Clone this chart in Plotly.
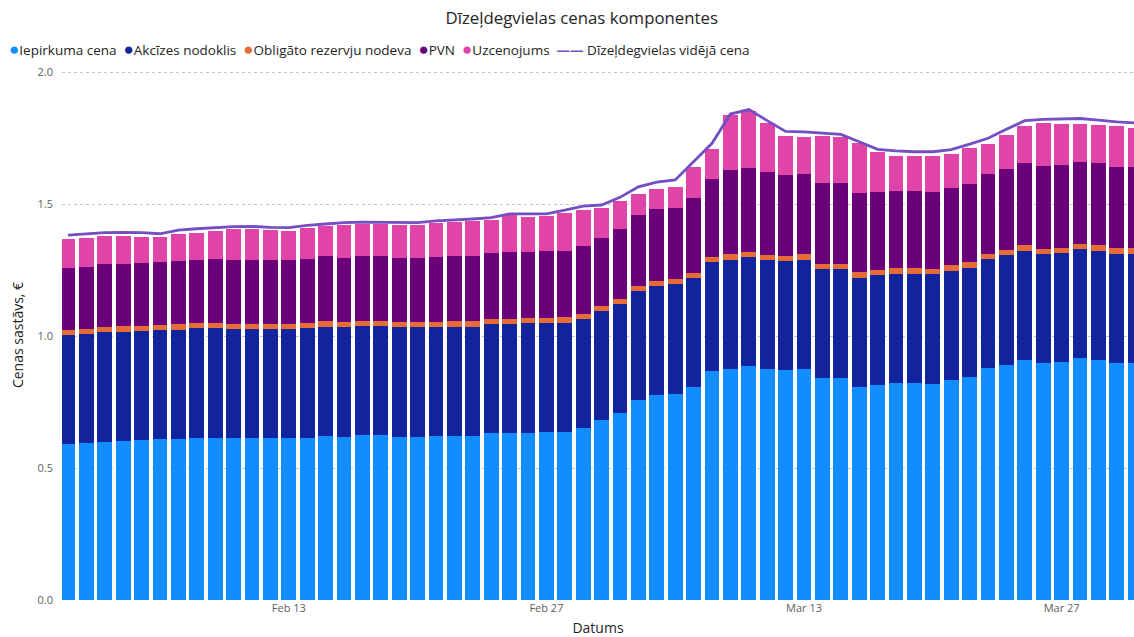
import pandas as pd
import plotly.graph_objects as go

dates = pd.date_range("2022-02-01", "2022-03-31", freq="D")

iepirkuma = [0.591, 0.595, 0.601, 0.604, 0.606, 0.609, 0.611, 0.616, 0.616, 0.613,
             0.614, 0.614, 0.614, 0.616, 0.623, 0.620, 0.625, 0.624, 0.620, 0.620,
             0.621, 0.623, 0.623, 0.632, 0.633, 0.635, 0.637, 0.638, 0.651,
             0.682, 0.709, 0.758, 0.777, 0.783, 0.806, 0.868, 0.877, 0.886, 0.875,
             0.872, 0.877, 0.842, 0.842, 0.809, 0.817, 0.824, 0.824, 0.821, 0.835,
             0.846, 0.880, 0.893, 0.911, 0.899, 0.902, 0.916, 0.911, 0.900, 0.900]
akcizes = [0.414] * 59
rezervju = [0.020] * 59
pvn = [0.235, 0.235, 0.238, 0.238, 0.238, 0.237, 0.239, 0.241, 0.242, 0.242,
       0.243, 0.243, 0.242, 0.243, 0.246, 0.244, 0.246, 0.246, 0.244, 0.244,
       0.246, 0.246, 0.247, 0.249, 0.251, 0.251, 0.252, 0.253, 0.256,
       0.258, 0.263, 0.267, 0.270, 0.271, 0.285, 0.296, 0.319, 0.320, 0.314,
       0.304, 0.304, 0.304, 0.304, 0.300, 0.296, 0.292, 0.292, 0.292, 0.292,
       0.297, 0.300, 0.306, 0.311, 0.313, 0.314, 0.313, 0.314, 0.310, 0.310]
uzcenojums = [0.110, 0.110, 0.106, 0.105, 0.099, 0.095, 0.105, 0.101, 0.109, 0.117,
              0.115, 0.111, 0.111, 0.118, 0.114, 0.124, 0.120, 0.123, 0.124, 0.125,
              0.130, 0.130, 0.132, 0.125, 0.142, 0.134, 0.132, 0.142, 0.139,
              0.113, 0.109, 0.082, 0.076, 0.077, 0.116, 0.111, 0.208, 0.216, 0.187,
              0.148, 0.140, 0.180, 0.175, 0.191, 0.151, 0.135, 0.132, 0.138, 0.129,
              0.138, 0.114, 0.130, 0.143, 0.163, 0.157, 0.143, 0.144, 0.152, 0.147]
videja_cena = [1.384, 1.389, 1.393, 1.394, 1.393, 1.389, 1.403, 1.408, 1.413, 1.416,
               1.417, 1.413, 1.412, 1.421, 1.426, 1.431, 1.433, 1.433, 1.431, 1.431,
               1.438, 1.441, 1.445, 1.450, 1.464, 1.464, 1.464, 1.479, 1.494,
               1.498, 1.527, 1.567, 1.585, 1.593, 1.662, 1.732, 1.843, 1.860, 1.818,
               1.777, 1.775, 1.770, 1.766, 1.738, 1.709, 1.703, 1.700, 1.700, 1.708,
               1.729, 1.751, 1.785, 1.818, 1.823, 1.824, 1.826, 1.820, 1.813, 1.809]

bar_names = ["Iepirkuma cena", "Akcīzes nodoklis", "Obligāto rezervju nodeva", "PVN", "Uzcenojums"]
bar_values = [iepirkuma, akcizes, rezervju, pvn, uzcenojums]
bar_colors = ["#118DFF", "#12239E", "#E66C37", "#6B007B", "#E044A7"]
line_name = "Dīzeļdegvielas vidējā cena"
line_color = "#744EC2"

FONT = "Segoe UI, Open Sans, sans-serif"

fig = go.Figure()
for name, vals, col in zip(bar_names, bar_values, bar_colors):
    fig.add_trace(go.Bar(x=dates, y=vals, name=name, marker=dict(color=col, line=dict(width=0))))
fig.add_trace(go.Scatter(x=dates, y=videja_cena, name=line_name, mode="lines",
                         line=dict(color=line_color, width=2.8)))

# compact Power BI-like legend
parts = []
for name, col in zip(bar_names, bar_colors):
    parts.append(f"<span style='color:{col};font-size:17px'>●</span>{name}")
parts.append(f"<span style='color:{line_color}'><b>——</b></span> {line_name}")
legend_text = "  ".join(parts)

fig.update_layout(
    width=1134, height=637,
    margin=dict(l=62, r=0, t=70, b=37),
    barmode="stack", bargap=0.2,
    plot_bgcolor="white", paper_bgcolor="white",
    showlegend=False,
    font=dict(family=FONT, color="#252423"),
    title=dict(text="Dīzeļdegvielas cenas komponentes", x=0.513, xanchor="center",
               y=1 - 18 / 637, yanchor="middle", font=dict(size=16.8, color="#252423")),
    annotations=[dict(text=legend_text, xref="paper", yref="paper",
                      x=(7 - 62) / 1072, y=(600 - 48) / 530, xanchor="left", yanchor="middle",
                      showarrow=False, font=dict(size=13.5, color="#252423"))],
)
fig.update_xaxes(
    range=["2022-01-31 16:10", "2022-03-30 22:24"],
    tick0="2022-02-13", dtick=14 * 86400000, tickformat="%b %-d",
    tickfont=dict(size=11, color="#605E5C"), showgrid=False, showline=False, zeroline=False,
    title=dict(text="Datums", font=dict(size=14, color="#252423"), standoff=11),
)
fig.update_yaxes(
    range=[0, 2.01], tickvals=[0, 0.5, 1.0, 1.5, 2.0], tickformat=".1f",
    tickfont=dict(size=11, color="#605E5C"),
    showgrid=True, gridcolor="#C8C6C4", griddash="dot", gridwidth=1,
    zeroline=False, showline=False, ticklabelstandoff=8,
    title=dict(text="Cenas sastāvs, €", font=dict(size=14, color="#252423"), standoff=10),
)

fig.write_html("out.html", config={"displayModeBar": False},
               post_script="document.body.style.margin='0';")
